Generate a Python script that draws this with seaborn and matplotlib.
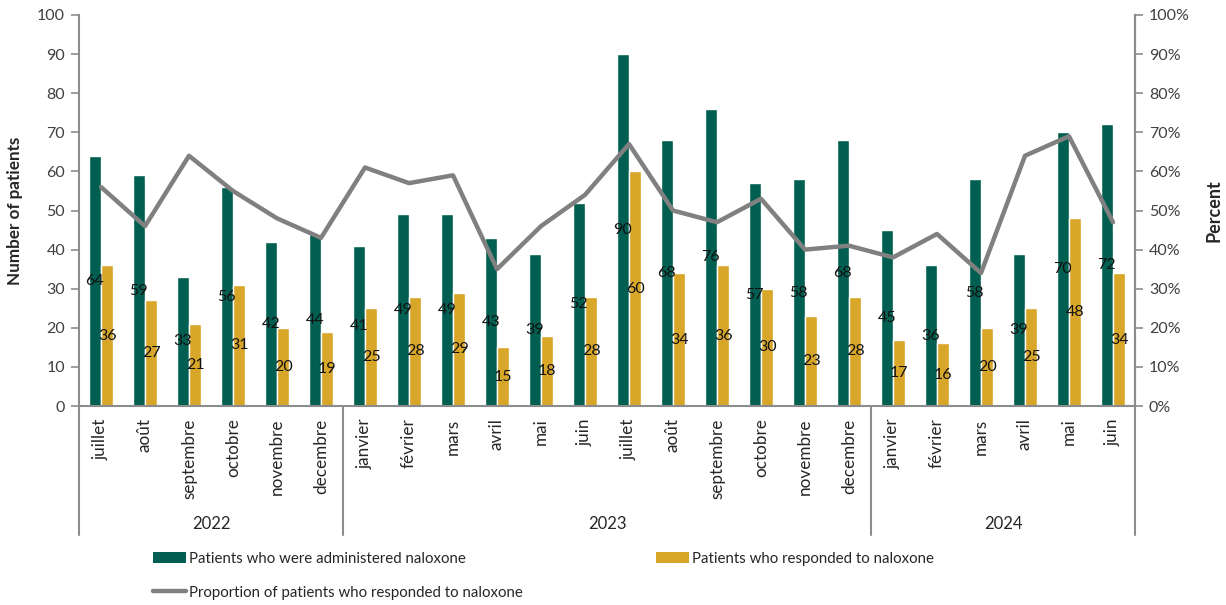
import numpy as np
import pandas as pd
import matplotlib
matplotlib.use("Agg")
import matplotlib.pyplot as plt
from matplotlib.patches import Patch
from matplotlib.lines import Line2D
from matplotlib.ticker import PercentFormatter
import seaborn as sns

# Monthly naloxone figures, July 2022 - June 2024
months = ["juillet", "août", "septembre", "octobre", "novembre", "decembre",
          "janvier", "février", "mars", "avril", "mai", "juin",
          "juillet", "août", "septembre", "octobre", "novembre", "decembre",
          "janvier", "février", "mars", "avril", "mai", "juin"]
years = ["2022", "2023", "2024"]
months_per_year = [6, 12, 6]
administered = [64, 59, 33, 56, 42, 44, 41, 49, 49, 43, 39, 52,
                90, 68, 76, 57, 58, 68, 45, 36, 58, 39, 70, 72]
responded = [36, 27, 21, 31, 20, 19, 25, 28, 29, 15, 18, 28,
             60, 34, 36, 30, 23, 28, 17, 16, 20, 25, 48, 34]
proportion_pct = [56, 46, 64, 55, 48, 43, 61, 57, 59, 35, 46, 54,
                  67, 50, 47, 53, 40, 41, 38, 44, 34, 64, 69, 47]

lab_admin = "Patients who were administered naloxone"
lab_resp = "Patients who responded to naloxone"
lab_prop = "Proportion of patients who responded to naloxone"

GREEN = "#005F50"
GOLD = "#D8A628"
LINE = "#808080"
AXIS = "#8C8C8C"
TEXT = "#262626"

sns.set_theme(style="white")
plt.rcParams["font.family"] = ["Lato", "DejaVu Sans"]
plt.rcParams["text.color"] = TEXT

slot = [f"{i:02d}" for i in range(len(months))]
df = pd.DataFrame({
    "slot": slot * 2,
    "value": administered + responded,
    "series": [lab_admin] * len(months) + [lab_resp] * len(months),
})

fig = plt.figure(figsize=(12.26, 6.05), dpi=100)
ax = fig.add_axes([79 / 1226, 1 - 406 / 605, (1135 - 79) / 1226, (406 - 15) / 605])

sns.barplot(data=df, x="slot", y="value", hue="series", order=slot,
            hue_order=[lab_admin, lab_resp], palette=[GREEN, GOLD],
            width=0.56, gap=0, saturation=1, ax=ax, legend=False)

for cont in ax.containers:
    ax.bar_label(cont, label_type="center", fontsize=11.5, color="#111111")

ax.set_xlim(-0.5, len(months) - 0.5)
ax.set_ylim(0, 100)
ax.set_yticks(np.arange(0, 101, 10))
ax.set_xticks(np.arange(len(months)))
ax.set_xticklabels(months, rotation=90, va="top", ha="center", fontsize=12.3, color=TEXT)
ax.tick_params(axis="x", length=0, pad=9)
ax.tick_params(axis="y", length=6, width=1.2, color=AXIS, labelsize=11.5,
               labelcolor="#404040", pad=4, direction="out", left=True)
ax.set_xlabel("")
ax.set_ylabel("Number of patients", fontsize=12.3, fontweight="bold", labelpad=10)

for side in ["left", "bottom", "right"]:
    ax.spines[side].set_visible(True)
    ax.spines[side].set_color(AXIS)
    ax.spines[side].set_linewidth(1.5)
ax.spines["top"].set_visible(False)

# Secondary axis for the response proportion
ax2 = ax.twinx()
sns.lineplot(x=np.arange(len(months)), y=proportion_pct, color=LINE,
             linewidth=3.2, ax=ax2, legend=False)
ax2.set_ylim(0, 100)
ax2.set_yticks(np.arange(0, 101, 10))
ax2.yaxis.set_major_formatter(PercentFormatter(decimals=0))
ax2.tick_params(axis="y", length=6, width=1.2, color=AXIS, labelsize=11.5,
                labelcolor="#404040", pad=4, direction="out", right=True)
ax2.set_ylabel("Percent", fontsize=13, fontweight="bold", labelpad=11)
for side in ["left", "bottom", "right", "top"]:
    ax2.spines[side].set_visible(False)
ax2.spines["right"].set_visible(True)
ax2.spines["right"].set_color(AXIS)
ax2.spines["right"].set_linewidth(1.5)

# Year grouping under the month labels
trans = ax.get_xaxis_transform()
bounds = np.concatenate([[0], np.cumsum(months_per_year)]) - 0.5
for b in bounds:
    ax.plot([b, b], [0, -0.33], transform=trans, color=AXIS, lw=1.5, clip_on=False)
for yr, lo, hi in zip(years, bounds[:-1], bounds[1:]):
    ax.text((lo + hi) / 2, -0.302, yr, transform=trans, ha="center", va="center",
            fontsize=12, color=TEXT)

handles = [Patch(facecolor=GREEN, edgecolor="none"),
           Line2D([0], [0], color=LINE, lw=3.2),
           Patch(facecolor=GOLD, edgecolor="none")]
labels = [lab_admin, lab_prop, lab_resp]
fig.legend(handles, labels, ncol=2, loc="upper left",
           bbox_to_anchor=(153 / 1226, 1 - 552 / 605), frameon=False,
           fontsize=10.8, handlelength=2.2, handleheight=0.75, handletextpad=0.2,
           columnspacing=8.9, labelspacing=1.3, borderpad=0, borderaxespad=0)

fig.savefig("out.png", dpi=100, facecolor="white")
